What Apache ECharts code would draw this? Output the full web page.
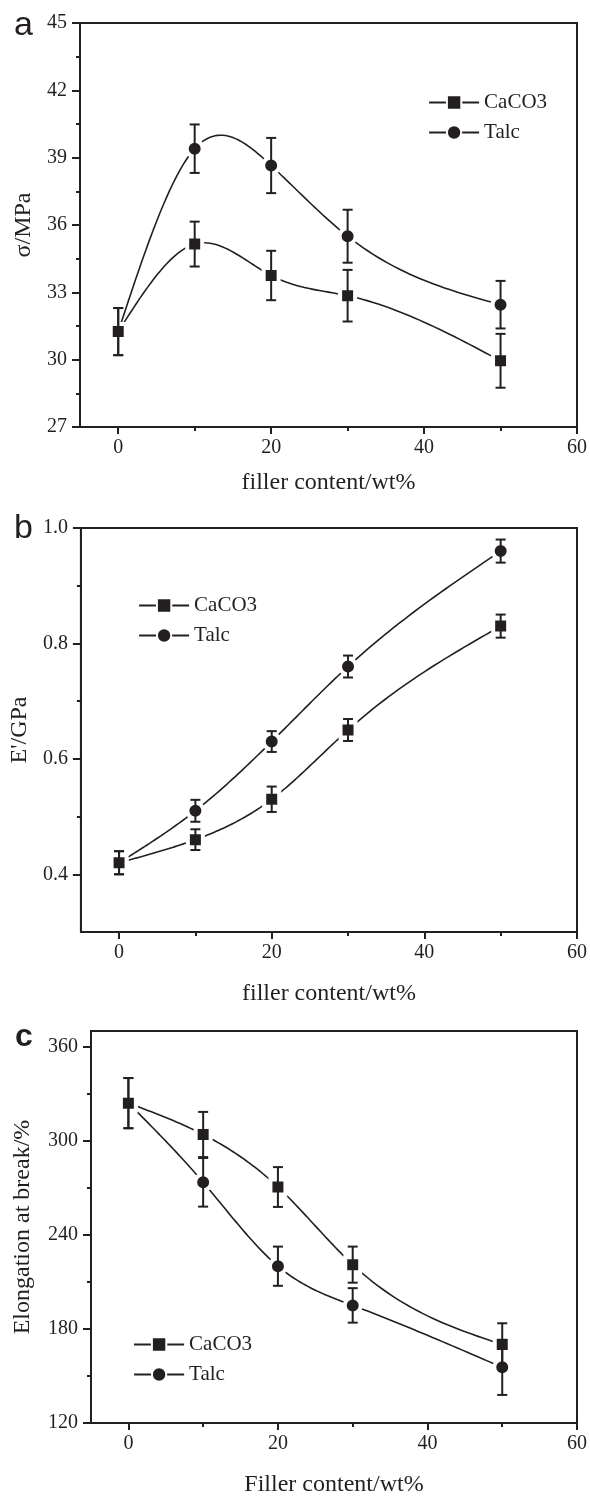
<!DOCTYPE html>
<html>
<head>
<meta charset="utf-8">
<script src="https://cdn.jsdelivr.net/npm/echarts@6/dist/echarts.min.js"></script>
<style>
html, body { margin: 0; padding: 0; background: #fff; }
#chart { width: 590px; height: 1498px; }
</style>
</head>
<body>
<div id="chart"></div>
<script>
// filler content, wt%
var fillerContent = [0, 10, 20, 30, 50];

// (a) tensile strength, MPa
var tensileCaCO3 = [31.25, 35.15, 33.75, 32.85, 29.95];
var tensileCaCO3Err = [1.05, 1.0, 1.1, 1.15, 1.2];
var tensileTalc = [31.25, 39.4, 38.65, 35.5, 32.45];
var tensileTalcErr = [1.05, 1.08, 1.23, 1.18, 1.06];

// (b) modulus, GPa
var modulusCaCO3 = [0.42, 0.46, 0.53, 0.65, 0.83];
var modulusCaCO3Err = [0.02, 0.018, 0.022, 0.019, 0.02];
var modulusTalc = [0.42, 0.51, 0.63, 0.76, 0.96];
var modulusTalcErr = [0.02, 0.019, 0.018, 0.019, 0.02];

// (c) elongation at break, %
var elongCaCO3 = [324, 304, 270.5, 221, 170];
var elongCaCO3Err = [16, 14.4, 12.7, 11.5, 13.6];
var elongTalc = [324, 273.5, 220, 195, 155.5];
var elongTalcErr = [16, 15.5, 12.5, 11, 17.6];

// ticks
var xTicks = [0, 20, 40, 60];
var xMinorTicks = [10, 30, 50];
var tensileTicks = [27, 30, 33, 36, 39, 42, 45];
var tensileMinorTicks = [28.5, 31.5, 34.5, 37.5, 40.5, 43.5];
var modulusTicks = [0.4, 0.6, 0.8, 1.0];
var modulusMinorTicks = [0.5, 0.7, 0.9];
var elongTicks = [120, 180, 240, 300, 360];
var elongMinorTicks = [150, 210, 270, 330];

var INK = '#231f20';
var SERIF = 'Liberation Serif';
var SANS = 'Liberation Sans';

function pairs(ys) {
  return fillerContent.map(function (x, i) { return [x, ys[i]]; });
}
function errPairs(ys, errs) {
  return fillerContent.map(function (x, i) { return [x, ys[i] - errs[i], ys[i] + errs[i]]; });
}

// natural cubic spline through the measured points (like the Origin spline connector)
function splinePath(xs, ys, steps) {
  var n = xs.length, h = [], M = new Array(n).fill(0);
  for (var i = 0; i < n - 1; i++) h.push(xs[i + 1] - xs[i]);
  var a = [], b = [], c = [], d = [];
  for (var i = 1; i < n - 1; i++) {
    a.push(h[i - 1]); b.push(2 * (h[i - 1] + h[i])); c.push(h[i]);
    d.push(6 * ((ys[i + 1] - ys[i]) / h[i] - (ys[i] - ys[i - 1]) / h[i - 1]));
  }
  var m = b.length;
  for (var i = 1; i < m; i++) {
    var w = a[i] / b[i - 1];
    b[i] -= w * c[i - 1]; d[i] -= w * d[i - 1];
  }
  var sol = new Array(m);
  for (var i = m - 1; i >= 0; i--) sol[i] = (d[i] - (i < m - 1 ? c[i] * sol[i + 1] : 0)) / b[i];
  for (var i = 0; i < m; i++) M[i + 1] = sol[i];
  var out = [];
  for (var i = 0; i < n - 1; i++) {
    for (var k = 0; k <= steps; k++) {
      if (i > 0 && k === 0) continue;
      var t = xs[i] + h[i] * k / steps;
      var A = xs[i + 1] - t, B = t - xs[i];
      var y = M[i] * A * A * A / (6 * h[i]) + M[i + 1] * B * B * B / (6 * h[i]) +
        (ys[i] / h[i] - M[i] * h[i] / 6) * A + (ys[i + 1] / h[i] - M[i + 1] * h[i] / 6) * B;
      out.push([t, y]);
    }
  }
  return out;
}

function renderErrorBar(params, api) {
  var x = api.value(0);
  var lo = api.coord([x, api.value(1)]);
  var hi = api.coord([x, api.value(2)]);
  var half = 5;
  var st = { stroke: INK, lineWidth: 2 };
  return {
    type: 'group',
    children: [
      { type: 'line', shape: { x1: hi[0], y1: hi[1], x2: lo[0], y2: lo[1] }, style: st },
      { type: 'line', shape: { x1: hi[0] - half, y1: hi[1], x2: hi[0] + half, y2: hi[1] }, style: st },
      { type: 'line', shape: { x1: lo[0] - half, y1: lo[1], x2: lo[0] + half, y2: lo[1] }, style: st }
    ]
  };
}

function majorX(g, name, gap) {
  return {
    type: 'value', gridIndex: g, min: -5, max: 60, position: 'bottom',
    name: name, nameLocation: 'middle', nameGap: gap,
    nameTextStyle: { fontFamily: SERIF, fontSize: 24, color: INK },
    axisLine: { show: true, onZero: false, lineStyle: { color: INK, width: 2 } },
    axisTick: { show: true, length: 7, customValues: xTicks, lineStyle: { color: INK, width: 2 } },
    axisLabel: { customValues: xTicks, fontFamily: SERIF, fontSize: 20, color: INK, margin: 11 },
    splitLine: { show: false }
  };
}
function minorX(g) {
  return {
    type: 'value', gridIndex: g, min: -5, max: 60, position: 'bottom',
    axisLine: { show: false, onZero: false },
    axisTick: { show: true, length: 4, customValues: xMinorTicks, lineStyle: { color: INK, width: 2 } },
    axisLabel: { show: false },
    splitLine: { show: false }
  };
}
function majorY(g, min, max, ticks, name, gap, digits) {
  return {
    type: 'value', gridIndex: g, min: min, max: max, position: 'left',
    name: name, nameLocation: 'middle', nameGap: gap,
    nameTextStyle: { fontFamily: SERIF, fontSize: 24, color: INK },
    axisLine: { show: true, onZero: false, lineStyle: { color: INK, width: 2 } },
    axisTick: { show: true, length: 8, customValues: ticks, lineStyle: { color: INK, width: 2 } },
    axisLabel: {
      customValues: ticks, fontFamily: SERIF, fontSize: 20, color: INK, margin: 13,
      formatter: function (v) { return v.toFixed(digits); }
    },
    splitLine: { show: false }
  };
}
function minorY(g, min, max, ticks) {
  return {
    type: 'value', gridIndex: g, min: min, max: max, position: 'left',
    axisLine: { show: false, onZero: false },
    axisTick: { show: true, length: 4, customValues: ticks, lineStyle: { color: INK, width: 2 } },
    axisLabel: { show: false },
    splitLine: { show: false }
  };
}

// markers only; the connecting curve is drawn by curveSeries
function markerSeries(name, symbol, size, g, ys) {
  return {
    name: name, type: 'line', xAxisIndex: 2 * g, yAxisIndex: 2 * g,
    data: pairs(ys),
    symbol: symbol, symbolSize: size,
    lineStyle: { color: INK, width: 1.6, opacity: 0 },
    itemStyle: { color: INK, borderColor: '#fff', borderWidth: 4 },
    z: 3
  };
}
function curveSeries(g, ys) {
  return {
    type: 'custom', xAxisIndex: 2 * g, yAxisIndex: 2 * g,
    data: pairs(ys), encode: { x: 0, y: 1 }, z: 2, silent: true,
    renderItem: function (params, api) {
      if (params.dataIndex !== 0) return null;
      var pts = splinePath(fillerContent, ys, 30).map(function (p) { return api.coord(p); });
      return { type: 'polyline', shape: { points: pts }, style: { stroke: INK, lineWidth: 1.6, fill: null } };
    }
  };
}
function errSeries(g, ys, errs) {
  return {
    type: 'custom', xAxisIndex: 2 * g, yAxisIndex: 2 * g,
    renderItem: renderErrorBar, data: errPairs(ys, errs),
    encode: { x: 0, y: [1, 2] }, z: 5, silent: true
  };
}

function legend(left, top) {
  return {
    data: ['CaCO3', 'Talc'], orient: 'vertical', left: left, top: top,
    itemWidth: 50, itemHeight: 18, itemGap: 9,
    lineStyle: { color: INK, width: 2.2, opacity: 1 },
    textStyle: { fontFamily: SERIF, fontSize: 21, color: INK }
  };
}

var gridStyle = { show: true, borderColor: INK, borderWidth: 2, backgroundColor: 'transparent' };

var option = {
  animation: false,
  backgroundColor: '#fff',
  title: [
    { text: 'a', left: 9, top: 4, textStyle: { fontFamily: SANS, fontSize: 34, fontWeight: 'normal', color: INK } },
    { text: 'b', left: 9, top: 507, textStyle: { fontFamily: SANS, fontSize: 34, fontWeight: 'normal', color: INK } },
    { text: 'c', left: 10, top: 1016, textStyle: { fontFamily: SANS, fontSize: 32, fontWeight: 'bold', color: INK } }
  ],
  legend: [legend(423, 87), legend(133, 590), legend(128, 1329)],
  grid: [
    Object.assign({ left: 80, top: 23, width: 499, height: 404 }, gridStyle),
    Object.assign({ left: 80, top: 528, width: 499, height: 404 }, gridStyle),
    Object.assign({ left: 91, top: 1031, width: 488, height: 392 }, gridStyle)
  ],
  xAxis: [
    majorX(0, 'filler content/wt%', 44), minorX(0),
    majorX(1, 'filler content/wt%', 50), minorX(1),
    majorX(2, 'Filler content/wt%', 50), minorX(2)
  ],
  yAxis: [
    majorY(0, 27, 45, tensileTicks, 'σ/MPa', 37, 0), minorY(0, 27, 45, tensileMinorTicks),
    majorY(1, 0.3, 1.0, modulusTicks, "E'/GPa", 36, 1), minorY(1, 0.3, 1.0, modulusMinorTicks),
    majorY(2, 120, 370, elongTicks, 'Elongation at break/%', 56, 0), minorY(2, 120, 370, elongMinorTicks)
  ],
  series: [
    markerSeries('Talc', 'circle', 16, 0, tensileTalc),
    markerSeries('CaCO3', 'rect', 15, 0, tensileCaCO3),
    curveSeries(0, tensileTalc),
    curveSeries(0, tensileCaCO3),
    errSeries(0, tensileTalc, tensileTalcErr),
    errSeries(0, tensileCaCO3, tensileCaCO3Err),

    markerSeries('Talc', 'circle', 16, 1, modulusTalc),
    markerSeries('CaCO3', 'rect', 15, 1, modulusCaCO3),
    curveSeries(1, modulusTalc),
    curveSeries(1, modulusCaCO3),
    errSeries(1, modulusTalc, modulusTalcErr),
    errSeries(1, modulusCaCO3, modulusCaCO3Err),

    markerSeries('Talc', 'circle', 16, 2, elongTalc),
    markerSeries('CaCO3', 'rect', 15, 2, elongCaCO3),
    curveSeries(2, elongTalc),
    curveSeries(2, elongCaCO3),
    errSeries(2, elongTalc, elongTalcErr),
    errSeries(2, elongCaCO3, elongCaCO3Err)
  ]
};

var chart = echarts.init(document.getElementById('chart'));
chart.setOption(option);
window.addEventListener('resize', chart.resize);
</script>
</body>
</html>
